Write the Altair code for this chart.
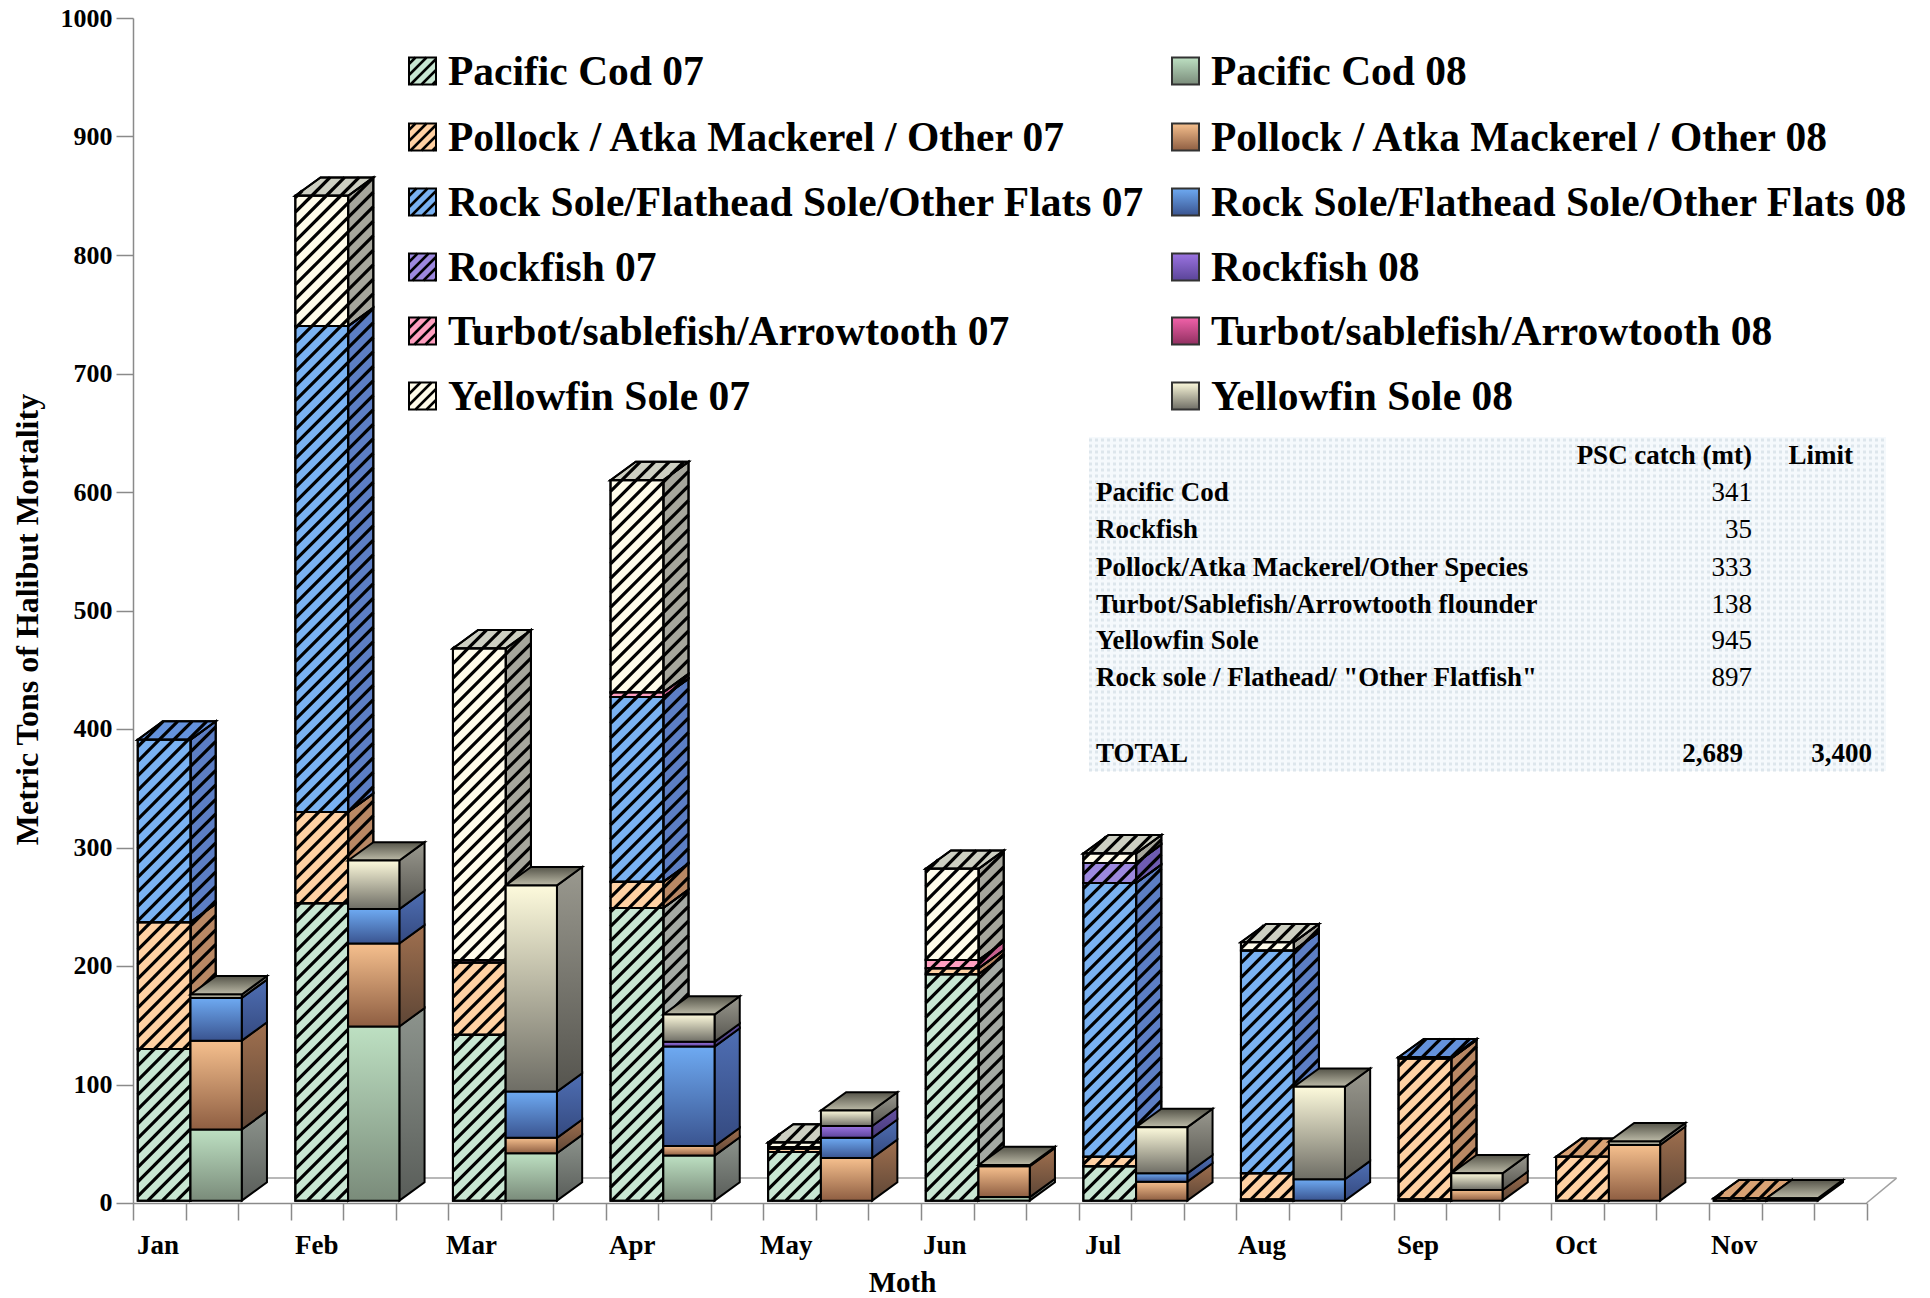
import altair as alt
import pandas as pd

months = ["Jan","Feb","Mar","Apr","May","Jun","Jul","Aug","Sep","Oct","Nov"]
series = ["Pacific Cod","Pollock / Atka Mackerel / Other","Rock Sole/Flathead Sole/Other Flats","Rockfish","Turbot/sablefish/Arrowtooth","Yellowfin Sole"]

cod07      = [128,251,140,247,41,191,29,1,1,0,0]
pollock07  = [107,77,61,22,3,5,8,22,119,37,2]
rock07     = [154,410,0,156,0,0,231,188,1,0,0]
rockfish07 = [0,0,0,0,0,0,17,0,0,0,0]
turbot07   = [0,0,2,4,1,7,0,0,0,0,0]
yellow07   = [0,110,263,179,4,77,8,7,0,0,0]

cod08      = [60,147,40,38,0,3,0,0,0,0,0]
pollock08  = [75,70,13,8,36,26,16,0,9,47,0]
rock08     = [36,29,39,84,17,0,7,18,0,0,1]
rockfish08 = [0,0,0,4,10,0,0,0,0,0,0]
turbot08   = [0,0,0,0,0,0,0,0,0,0,0]
yellow08   = [3,41,174,23,13,1,39,78,14,3,1]

table_names = ["Pacific Cod","Rockfish","Pollock/Atka Mackerel/Other Species","Turbot/Sablefish/Arrowtooth flounder","Yellowfin Sole",'Rock sole / Flathead/ "Other Flatfish"']
table_values = ["341","35","333","138","945","897"]

front07 = ["#C8E6D2","#FFD1A3","#7AB2F2","#9C88DE","#FF9FC0","#FFFCEA"]
side07  = ["#A4A9A3","#B98864","#5C7EC4","#6F5CB2","#C8608F","#A6A69C"]
top07   = ["#C9CFC2","#D9A274","#6492DC","#7E6CC4","#D870A0","#CDCFC2"]
front08 = [("#BDE0C2","#7A8B7A"),("#F6C08E","#8E5E42"),("#6EAAF2","#3A5490"),("#9C74E2","#5A4498"),("#F262AA","#903060"),("#FDFADC","#6E6D65")]
side08  = [("#8D948D","#595D59"),("#A0704F","#5E4636"),("#4F6FB4","#34497F"),("#6652A4","#463A78"),("#AA4279","#70305A"),("#9A998F","#55544E")]
top08   = ("#555449","#BDBBA8")

# Layout of the picture, in pixels of the page
X0, MONTH = 133.0, 157.6
Y0, UNIT = 1203.0, 1.185
BASE = 2.0
OFFS = [0.03, 0.365, 0.69]
DX, DY = 0.16, 15.5
S_BAR, W_BAR = 14.5, 3.2
month_label_x = [137, 295, 446, 609, 760, 923, 1085, 1238, 1397, 1555, 1711]

def px(x): return X0 + x * MONTH
def py(y): return Y0 - y * UNIT
def ux(p): return (p - X0) / MONTH
def uy(p): return (Y0 - p) / UNIT

def hatch(poly, spacing):
    """diagonal lines clipped to a convex polygon given in data units"""
    pts = [(px(a), py(b)) for a, b in poly]
    sums = [a + b for a, b in pts]
    k0, k1 = int(min(sums) // spacing), int(max(sums) // spacing) + 1
    out = []
    n = len(pts)
    for k in range(k0, k1 + 1):
        c = k * spacing
        hits = []
        for i in range(n):
            (a1, b1), (a2, b2) = pts[i], pts[(i + 1) % n]
            s1, s2 = a1 + b1 - c, a2 + b2 - c
            if s1 == s2 or s1 * s2 > 0:
                continue
            t = s1 / (s1 - s2)
            hits.append((a1 + t * (a2 - a1), b1 + t * (b2 - b1)))
        if len(hits) >= 2:
            hits.sort()
            p, q = hits[0], hits[-1]
            if abs(p[0] - q[0]) > 0.5:
                out.append(dict(x=round(ux(p[0]), 4), y=round(uy(p[1]), 3), x2=round(ux(q[0]), 4), y2=round(uy(q[1]), 3)))
    return out

x_axis = alt.Axis(values=[i / 3 for i in range(34)], title="Moth", titleFont="Liberation Serif", titleFontSize=29,
                  titleFontWeight="bold", titleColor="black", titleX=769, titleY=80, titleAlign="center", titleBaseline="middle",
                  labels=False, tickSize=17, tickColor="#8a8a8a", tickWidth=1.5,
                  domainColor="#8a8a8a", domainWidth=1.5, grid=False)
y_axis = alt.Axis(values=list(range(0, 1001, 100)), format="d", title="Metric Tons of Halibut Mortality", titleFont="Liberation Serif",
                  titleFontSize=32, titleFontWeight="bold", titleColor="black", titleX=-105, titleY=601, titleAlign="center", titleBaseline="middle",
                  labelFont="Liberation Serif", labelFontSize=26, labelFontWeight="bold", labelColor="black",
                  labelPadding=4, tickSize=17, tickColor="#8a8a8a", tickWidth=1.5, domainColor="#8a8a8a", domainWidth=1.5, grid=False)

XS = alt.Scale(domain=[0, 11], nice=False, zero=False)
YS = alt.Scale(domain=[0, 1000], nice=False, zero=False)
ex = alt.X("x:Q", scale=XS, axis=x_axis)
ey = alt.Y("y:Q", scale=YS, axis=y_axis)
ex2, ey2 = alt.X2("x2:Q"), alt.Y2("y2:Q")

def grad(pair):
    return alt.LinearGradient(gradient="linear", x1=0, x2=0, y1=0, y2=1,
                              stops=[alt.GradientStop(color=pair[0], offset=0), alt.GradientStop(color=pair[1], offset=1)])

def rect_layer(rows, **kw):
    return alt.Chart(pd.DataFrame(rows)).mark_rect(**kw).encode(x=ex, x2=ex2, y=ey, y2=ey2)

def rule_layer(rows, **kw):
    return alt.Chart(pd.DataFrame(rows)).mark_rule(**kw).encode(x=ex, x2=ex2, y=ey, y2=ey2)

def area_layer(rows, **kw):
    return alt.Chart(pd.DataFrame(rows)).mark_area(orient="vertical", opacity=1, **kw).encode(
        x=ex, y=ey, y2=ey2, detail="id:N")

def text_layer(rows, **kw):
    return alt.Chart(pd.DataFrame(rows)).mark_text(font="Liberation Serif", color="black", **kw).encode(
        x=ex, y=ey, text="t:N")

def build_year(stacks, left_off, right_off, year_front, year_side, year_top, hatched):
    side_polys = {s: [] for s in range(6)}
    top_polys = {s: [] for s in range(6)}
    fronts = {s: [] for s in range(6)}
    hat_side, hat_top, hat_front = [], [], []
    outlines = []
    nid = 0
    for m in range(len(months)):
        y = BASE
        xl, xr = m + left_off, m + right_off
        last = None
        for s in range(6):
            v = stacks[s][m]
            if v <= 0:
                continue
            y0, y1 = y, y + v
            y = y1
            last = s
            fronts[s].append(dict(x=xl, x2=xr, y=y0, y2=y1))
            outlines.append(dict(x=xl, x2=xr, y=y0, y2=y1))
            nid += 1
            side_polys[s] += [dict(id=nid, x=xr, y=y0, y2=y1), dict(id=nid, x=xr + DX, y=y0 + DY, y2=y1 + DY)]
            if hatched:
                hat_front += hatch([(xl, y0), (xr, y0), (xr, y1), (xl, y1)], S_BAR)
                hat_side += hatch([(xr, y0), (xr + DX, y0 + DY), (xr + DX, y1 + DY), (xr, y1)], S_BAR)
        if last is not None:
            nid += 1
            t = y
            top_polys[last] += [dict(id=nid, x=xl, y=t, y2=t), dict(id=nid, x=xl + DX, y=t, y2=t + DY),
                                dict(id=nid, x=xr, y=t, y2=t + DY), dict(id=nid, x=xr + DX, y=t + DY, y2=t + DY)]
            if hatched:
                hat_top += hatch([(xl, t), (xr, t), (xr + DX, t + DY), (xl + DX, t + DY)], S_BAR)
    out = []
    for s in range(6):
        if side_polys[s]:
            out.append(area_layer(side_polys[s], fill=year_side[s] if hatched else grad(year_side[s]), stroke="black", strokeWidth=2))
    if hat_side:
        out.append(rule_layer(hat_side, color="black", strokeWidth=W_BAR))
    if hatched:
        for s in range(6):
            if side_polys[s]:
                out.append(area_layer(side_polys[s], fill="white", fillOpacity=0, stroke="black", strokeWidth=2))
    for s in range(6):
        if top_polys[s]:
            out.append(area_layer(top_polys[s], fill=year_top[s] if hatched else grad(year_top), stroke="black", strokeWidth=2))
    if hat_top:
        out.append(rule_layer(hat_top, color="black", strokeWidth=W_BAR))
        for s in range(6):
            if top_polys[s]:
                out.append(area_layer(top_polys[s], fill="white", fillOpacity=0, stroke="black", strokeWidth=2))
    for s in range(6):
        if fronts[s]:
            out.append(rect_layer(fronts[s], fill=year_front[s] if hatched else grad(year_front[s]), stroke="black", strokeWidth=2))
    if hat_front:
        out.append(rule_layer(hat_front, color="black", strokeWidth=W_BAR))
        out.append(rect_layer(outlines, fill="white", fillOpacity=0, stroke="black", strokeWidth=2))
    return out

stacks07 = [cod07, pollock07, rock07, rockfish07, turbot07, yellow07]
stacks08 = [cod08, pollock08, rock08, rockfish08, turbot08, yellow08]

# Floor
floor_back = [dict(x=DX, y=21, x2=11 + 0.19, y2=21), dict(x=11, y=0, x2=11 + 0.19, y2=21)]
layers = [rule_layer(floor_back, color="#a0a0a0", strokeWidth=1.5)]

# Table panel: pale ground with a fine dotted screen
PANEL = (1089, 1886, 437, 771)
panel = [dict(x=ux(PANEL[0]), x2=ux(PANEL[1]), y=uy(PANEL[2]), y2=uy(PANEL[3]))]
layers.append(rect_layer(panel, fill="#F5F9FC"))
dots = [dict(x=ux(PANEL[0]), x2=ux(PANEL[1]), y=uy(p), y2=uy(p)) for p in range(PANEL[2] + 3, PANEL[3], 6)]
layers.append(rule_layer(dots, color="#DDE6EC", strokeWidth=3, strokeDash=[3, 3]))

layers += build_year(stacks07, OFFS[0], OFFS[1], front07, side07, top07, True)
layers += build_year(stacks08, OFFS[1], OFFS[2], front08, side08, top08, False)

# Month labels
layers.append(text_layer([dict(x=ux(p), y=uy(1246), t=m) for p, m in zip(month_label_x, months)],
                         fontSize=27, fontWeight="bold", align="left", baseline="middle"))

# Legend
legend_rows = [71, 137, 202, 267, 331, 396]
leg_07_x, leg_08_x = 409, 1172
SW = 27
txt = []
for i, name in enumerate(series):
    r = legend_rows[i]
    box = [ux(leg_07_x), ux(leg_07_x + SW), uy(r + SW / 2), uy(r - SW / 2)]
    layers.append(rect_layer([dict(x=box[0], x2=box[1], y=box[2], y2=box[3])], fill=front07[i]))
    layers.append(rule_layer(hatch([(box[0], box[2]), (box[1], box[2]), (box[1], box[3]), (box[0], box[3])], 11), color="black", strokeWidth=2.5))
    layers.append(rect_layer([dict(x=box[0], x2=box[1], y=box[2], y2=box[3])], fill="white", fillOpacity=0, stroke="black", strokeWidth=2))
    box2 = [ux(leg_08_x), ux(leg_08_x + SW), uy(r + SW / 2), uy(r - SW / 2)]
    layers.append(rect_layer([dict(x=box2[0], x2=box2[1], y=box2[2], y2=box2[3])], fill=grad(front08[i]), stroke="#333333", strokeWidth=2))
    txt.append(dict(x=ux(448), y=uy(r + 2), t=name + " 07"))
    txt.append(dict(x=ux(1211), y=uy(r + 2), t=name + " 08"))
layers.append(text_layer(txt, fontSize=41.5, fontWeight="bold", align="left", baseline="middle"))

# Table text
rows_y = [493, 530, 568, 605, 641, 678]
total_y = 754
layers.append(text_layer([dict(x=ux(1096), y=uy(v), t=n) for n, v in zip(table_names, rows_y)] + [dict(x=ux(1096), y=uy(total_y), t="TOTAL")],
                         fontSize=27, fontWeight="bold", align="left", baseline="middle"))
layers.append(text_layer([dict(x=ux(1752), y=uy(v), t=n) for n, v in zip(table_values, rows_y)],
                         fontSize=27, align="right", baseline="middle"))
layers.append(text_layer([dict(x=ux(1752), y=uy(456), t="PSC catch (mt)"), dict(x=ux(1853), y=uy(456), t="Limit"),
                          dict(x=ux(1743), y=uy(total_y), t="2,689"), dict(x=ux(1872), y=uy(total_y), t="3,400")],
                         fontSize=27, fontWeight="bold", align="right", baseline="middle"))

chart = alt.layer(*layers).properties(
    width=1733.6, height=1185,
    autosize=alt.AutoSizeParams(type="none"),
    padding={"left": 125, "top": 10, "right": 55, "bottom": 95},
    background="white",
).configure_view(stroke=None)

chart.save("out.html", embed_options={"renderer": "svg", "actions": False})
